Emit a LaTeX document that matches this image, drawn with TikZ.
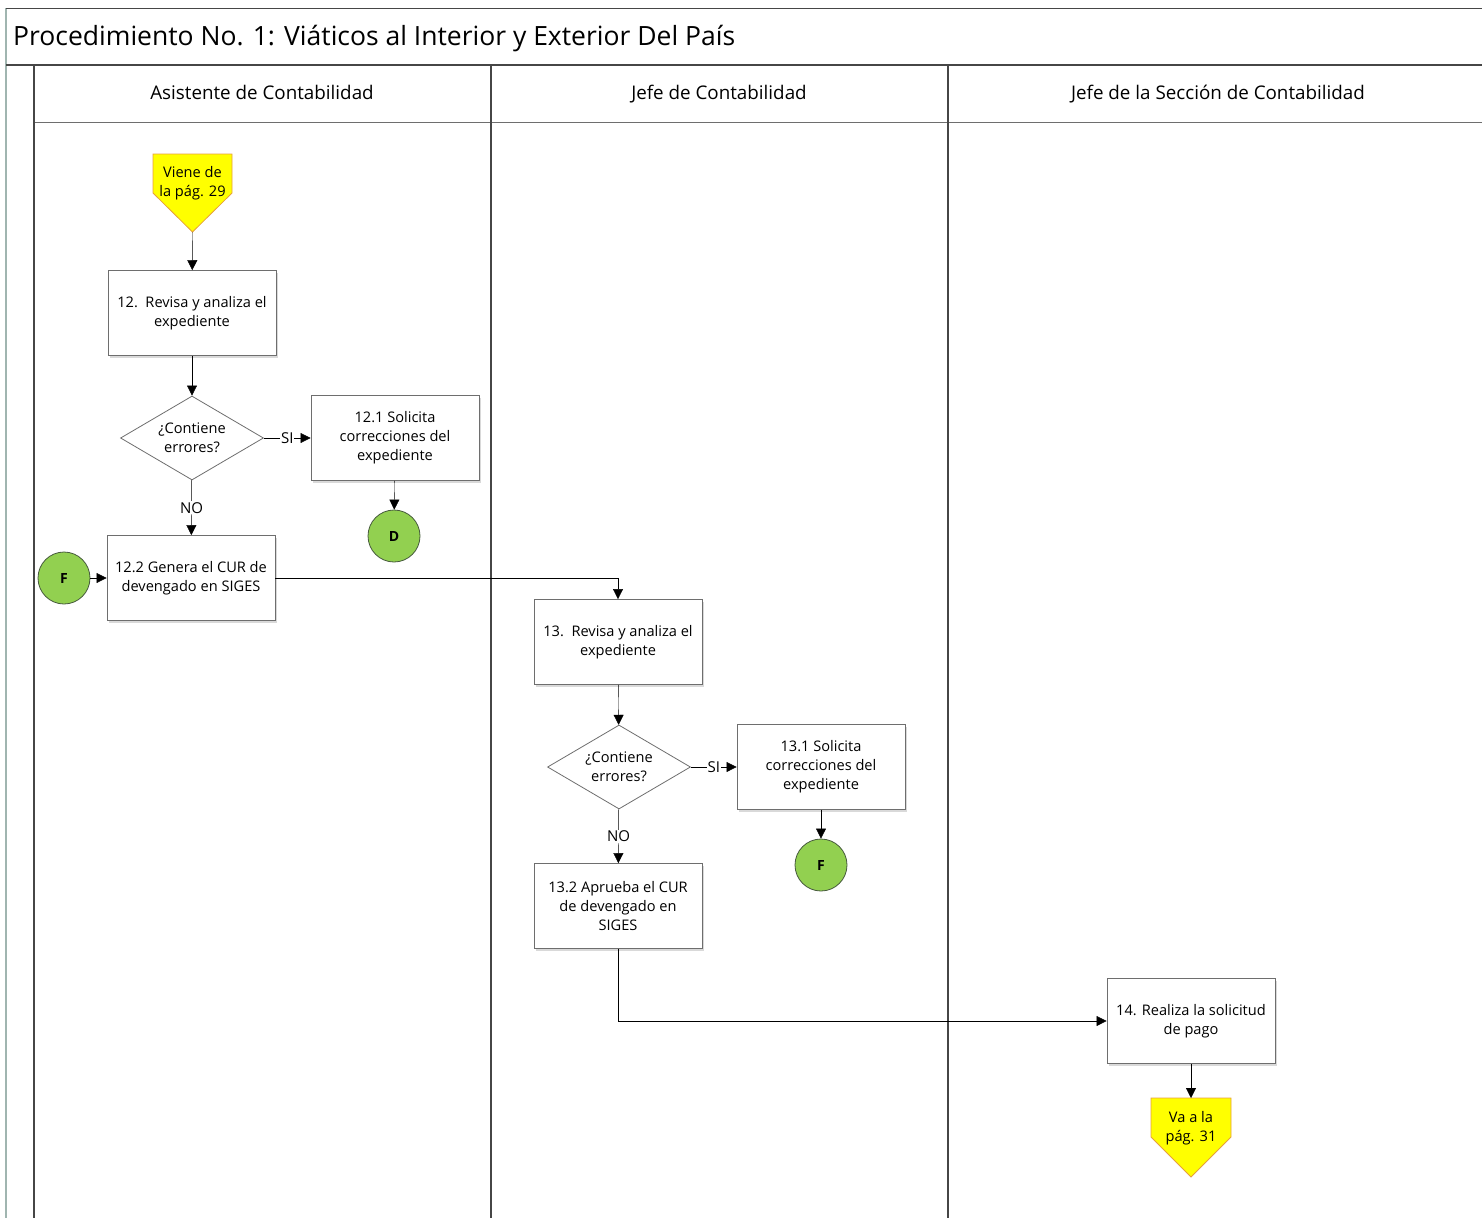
\documentclass[tikz,border=0pt]{standalone}
\usepackage{fontspec}
\setmainfont{Open Sans}
\usetikzlibrary{calc,arrows.meta,shapes.geometric,shadows}
\definecolor{lanegray}{RGB}{70,70,70}
\definecolor{framegray}{RGB}{160,181,176}
\definecolor{boxgray}{RGB}{110,110,110}
\definecolor{offyellow}{RGB}{255,255,0}
\definecolor{offorange}{RGB}{230,160,60}
\definecolor{conngreen}{RGB}{146,208,80}
\definecolor{conndark}{RGB}{70,90,60}

\begin{document}
\begin{tikzpicture}
		[x=1pt,y=-1pt,>={Triangle[length=10pt,width=10pt]}]
			\tikzstyle{every node}=[font=\fontsize{14.6}{19}\selectfont, inner sep=0pt]
			\tikzstyle{task}=[rectangle, draw=boxgray, fill=white, line width=0.8pt,
		minimum width=168pt, minimum height=85pt, align=center,
		drop shadow={shadow xshift=2pt,shadow yshift=-2pt,opacity=0.3,fill=gray}]
			\tikzstyle{decision}=[diamond, draw=boxgray, fill=white, line width=0.8pt,
		shape aspect=1.7, minimum width=143pt, minimum height=84pt, align=center]
			\tikzstyle{connector}=[circle, draw=conndark, fill=conngreen, line width=0.8pt,
		minimum size=52pt, font=\fontsize{14}{16}\selectfont\bfseries]
			\tikzstyle{offpage}=[draw=offorange, fill=offyellow, line width=0.8pt]
			\tikzstyle{tag}=[fill=white, inner sep=1pt, font=\fontsize{15}{17}\selectfont]
			\tikzstyle{lanehead}=[anchor=base, font=\fontsize{18.8}{22}\selectfont]
		\useasboundingbox (0,0) rectangle (1482,1218);
		%-----frame and lanes
		\draw[framegray, line width=1.5pt] (6,8) -- (6,1218);
		\draw[lanegray, line width=1pt] (6,8) -- (1482,8);
		\draw[lanegray, line width=1.4pt] (6,65) -- (1482,65);
		\draw[boxgray, line width=1pt] (34,122) -- (1482,122);
		\foreach \lx in {34,491,948}
		 \draw[lanegray, line width=1.4pt] (\lx,65) -- (\lx,1218);
		 \node[anchor=base west, font=\fontsize{26.5}{30}\selectfont] (title) at (13,45) {Procedimiento No. 1: Viáticos al Interior y Exterior Del País};
		 \node[lanehead] (laneA) at (262,99) {Asistente de Contabilidad};
		 \node[lanehead] (laneB) at (719,99) {Jefe de Contabilidad};
		 \node[lanehead] (laneC) at (1218,99) {Jefe de la Sección de Contabilidad};
		%-----off-page in
		 \draw[offpage] (153,154) -- (232,154) -- (232,193) -- (192.5,232) -- (153,193) -- cycle;
		 \node[align=center] (viene) at (192.5,183) {Viene de\\la pág. 29};
		 \coordinate (vieneTip) at (192.5,232);
		%-----A
		 \node[task] (T12)  at (192,313) {12.~~Revisa y analiza el\\expediente};
		 \node[decision] (D12) at (192,438) {¿Contiene\\errores?};
		 \node[task] (T121) at (395,438) {12.1 Solicita\\correcciones del\\expediente};
		 \node[connector] (CD) at (394,536) {D};
		 \node[task] (T122) at (191,578) {12.2 Genera el CUR de\\devengado en SIGES};
		 \node[connector] (CF1) at (64,578) {F};
		%-----B
		 \node[task] (T13)  at (618,642) {13.~~Revisa y analiza el\\expediente};
		 \node[decision] (D13) at (619,767) {¿Contiene\\errores?};
		 \node[task] (T131) at (821,767) {13.1 Solicita\\correcciones del\\expediente};
		 \node[connector] (CF2) at (821,865) {F};
		 \node[task] (T132) at (618,906) {13.2 Aprueba el CUR\\de devengado en\\SIGES};
		%-----C
		 \node[task] (T14)  at (1191,1021) {14. Realiza la solicitud\\de pago};
		 \draw[offpage] (1151,1098) -- (1231,1098) -- (1231,1137) -- (1191,1177) -- (1151,1137) -- cycle;
		 \node[align=center] (va) at (1191,1128) {Va a la\\pág. 31};
		 \coordinate (vaTop) at (1191,1098);
		
		 \foreach \from/\to in {vieneTip/T12,T12/D12,T121/CD,CF1/T122,T13/D13,T131/CF2,T14/vaTop}
		 \draw[->] (\from) -- (\to);
		 \draw[->] (D12) -- node[tag] {SI} (T121);
		 \draw[->] (D12) -- node[tag] {NO} (T122);
		 \draw[->] (D13) -- node[tag] {SI} (T131);
		 \draw[->] (D13) -- node[tag] {NO} (T132);
		 \draw[->] (T122.east) -| (T13.north);
		 \draw[->] (T132.south) |- (T14.west);
		 
		 	\end{tikzpicture}
\end{document}
